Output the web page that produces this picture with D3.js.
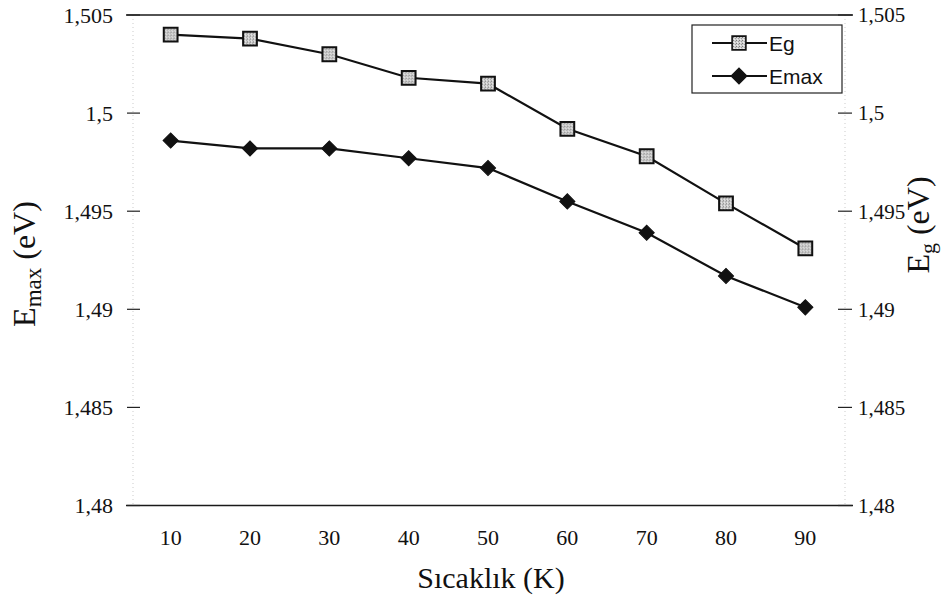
<!DOCTYPE html>
<html>
<head>
<meta charset="utf-8">
<script src="https://cdn.jsdelivr.net/npm/d3@7"></script>
<style>
  html, body { margin: 0; padding: 0; background: #fff; }
  svg { display: block; }
</style>
</head>
<body>
<svg id="chart" width="944" height="609"></svg>
<script>
// Temperatures (K)
const temperatures = [10, 20, 30, 40, 50, 60, 70, 80, 90];
// Band gap energy Eg (eV)
const egValues = [1.5040, 1.5038, 1.5030, 1.5018, 1.5015, 1.4992, 1.4978, 1.4954, 1.4931];
// Peak emission energy Emax (eV)
const emaxValues = [1.4986, 1.4982, 1.4982, 1.4977, 1.4972, 1.4955, 1.4939, 1.4917, 1.4901];
// Shared tick values for both energy axes
const energyTicks = [1.48, 1.485, 1.49, 1.495, 1.5, 1.505];
const seriesNames = ["Eg", "Emax"];

const SERIF = "'Liberation Serif', 'DejaVu Serif', 'Times New Roman', serif";
const SANS = "'Liberation Sans', Arial, sans-serif";

const svg = d3.select("#chart");

const plot = { left: 131, right: 845, top: 15, bottom: 505.5 };
const axisLeftX = 133, axisRightX = 845;

const x = d3.scalePoint()
  .domain(temperatures)
  .range([plot.left, plot.right])
  .padding(0.5);

const yLeft = d3.scaleLinear().domain([1.48, 1.505]).range([plot.bottom, plot.top]);
const yRight = d3.scaleLinear().domain([1.48, 1.505]).range([plot.bottom, plot.top]);

const fmt = v => String(+v.toFixed(3)).replace(".", ",");

// stippled grey fill for the square markers
const defs = svg.append("defs");
const pat = defs.append("pattern")
  .attr("id", "stipple").attr("width", 3).attr("height", 3)
  .attr("patternUnits", "userSpaceOnUse");
pat.append("rect").attr("width", 3).attr("height", 3).attr("fill", "#cfcfcf");
pat.append("rect").attr("x", 0).attr("y", 0).attr("width", 1).attr("height", 1).attr("fill", "#7a7a7a");
pat.append("rect").attr("x", 2).attr("y", 1).attr("width", 1).attr("height", 1).attr("fill", "#9a9a9a");
pat.append("rect").attr("x", 1).attr("y", 2).attr("width", 1).attr("height", 1).attr("fill", "#eeeeee");

// faint vertical axis lines
[axisLeftX, axisRightX].forEach(ax => {
  svg.append("line")
    .attr("x1", ax).attr("x2", ax)
    .attr("y1", plot.top).attr("y2", plot.bottom)
    .attr("stroke", "#9a9a9a").attr("stroke-width", 1)
    .attr("stroke-dasharray", "1,3").attr("opacity", 0.5);
});

// top and bottom frame lines
[1.505, 1.48].forEach(v => {
  svg.append("line")
    .attr("x1", 126).attr("x2", 853)
    .attr("y1", yLeft(v)).attr("y2", yLeft(v))
    .attr("stroke", "#1a1a1a").attr("stroke-width", 1.6);
});

function serifText(sel, size) {
  return sel.attr("font-family", SERIF).attr("font-size", size).attr("fill", "#111");
}

// left axis ticks and labels
const leftAxis = svg.append("g");
energyTicks.forEach(v => {
  leftAxis.append("line")
    .attr("x1", 127).attr("x2", 140)
    .attr("y1", yLeft(v)).attr("y2", yLeft(v))
    .attr("stroke", "#222").attr("stroke-width", 1.2);
  serifText(leftAxis.append("text"), 22)
    .attr("x", 113).attr("y", yLeft(v)).attr("dy", "0.35em")
    .attr("text-anchor", "end")
    .text(fmt(v));
});

// right axis ticks and labels
const rightAxis = svg.append("g");
energyTicks.forEach(v => {
  rightAxis.append("line")
    .attr("x1", 838).attr("x2", 852)
    .attr("y1", yRight(v)).attr("y2", yRight(v))
    .attr("stroke", "#222").attr("stroke-width", 1.2);
  serifText(rightAxis.append("text"), 21)
    .attr("x", 858).attr("y", yRight(v)).attr("dy", "0.35em")
    .attr("text-anchor", "start")
    .text(fmt(v));
});

// category labels
serifText(svg.append("g").selectAll("text")
  .data(temperatures).join("text"), 22)
  .attr("x", d => x(d)).attr("y", 545)
  .attr("text-anchor", "middle")
  .text(d => d);

// axis titles
serifText(svg.append("text"), 30)
  .attr("x", 491).attr("y", 588)
  .attr("text-anchor", "middle")
  .text("Sıcaklık (K)");

const leftTitle = serifText(svg.append("text"), 32)
  .attr("transform", "translate(35,264) rotate(-90)")
  .attr("text-anchor", "middle");
leftTitle.append("tspan").text("E");
leftTitle.append("tspan").attr("font-size", 23).attr("dy", 6).text("max");
leftTitle.append("tspan").attr("dy", -6).text(" (eV)");

const rightTitle = serifText(svg.append("text"), 32)
  .attr("transform", "translate(929,225) rotate(-90)")
  .attr("text-anchor", "middle");
rightTitle.append("tspan").text("E");
rightTitle.append("tspan").attr("font-size", 22).attr("dy", 6).text("g");
rightTitle.append("tspan").attr("dy", -6).text(" (eV)");

// series lines
const lineLeft = d3.line().x((d, i) => x(temperatures[i])).y(d => yLeft(d));
const lineRight = d3.line().x((d, i) => x(temperatures[i])).y(d => yRight(d));

svg.append("path").datum(egValues)
  .attr("d", lineRight)
  .attr("fill", "none").attr("stroke", "#111").attr("stroke-width", 2.2);
svg.append("path").datum(emaxValues)
  .attr("d", lineLeft)
  .attr("fill", "none").attr("stroke", "#111").attr("stroke-width", 2.2);

const square = d3.symbol().type(d3.symbolSquare).size(190);
// diamond: a square turned by 45 degrees
const diamond = d3.symbol().type(d3.symbolSquare).size(115);

svg.append("g").selectAll("path")
  .data(egValues).join("path")
  .attr("transform", (d, i) => `translate(${x(temperatures[i])},${yRight(d)})`)
  .attr("d", square)
  .attr("fill", "url(#stipple)").attr("stroke", "#111").attr("stroke-width", 2);

svg.append("g").selectAll("path")
  .data(emaxValues).join("path")
  .attr("transform", (d, i) => `translate(${x(temperatures[i])},${yLeft(d)}) rotate(45)`)
  .attr("d", diamond)
  .attr("fill", "#111").attr("stroke", "#111").attr("stroke-width", 1);

// legend
const legend = svg.append("g");
legend.append("rect")
  .attr("x", 692).attr("y", 25).attr("width", 150).attr("height", 68)
  .attr("fill", "#fff").attr("stroke", "#222").attr("stroke-width", 1.2);
const rows = [
  { name: seriesNames[0], y: 43, sym: square, fill: "url(#stipple)", rot: 0 },
  { name: seriesNames[1], y: 76, sym: diamond, fill: "#111", rot: 45 }
];
rows.forEach(r => {
  legend.append("line")
    .attr("x1", 712).attr("x2", 767).attr("y1", r.y).attr("y2", r.y)
    .attr("stroke", "#111").attr("stroke-width", 2.2);
  legend.append("path")
    .attr("transform", `translate(739,${r.y}) rotate(${r.rot})`)
    .attr("d", r.sym)
    .attr("fill", r.fill).attr("stroke", "#111").attr("stroke-width", 1.6);
  legend.append("text")
    .attr("font-family", SANS).attr("font-size", 21).attr("fill", "#111")
    .attr("x", 769).attr("y", r.y).attr("dy", "0.36em")
    .text(r.name);
});
</script>
</body>
</html>
